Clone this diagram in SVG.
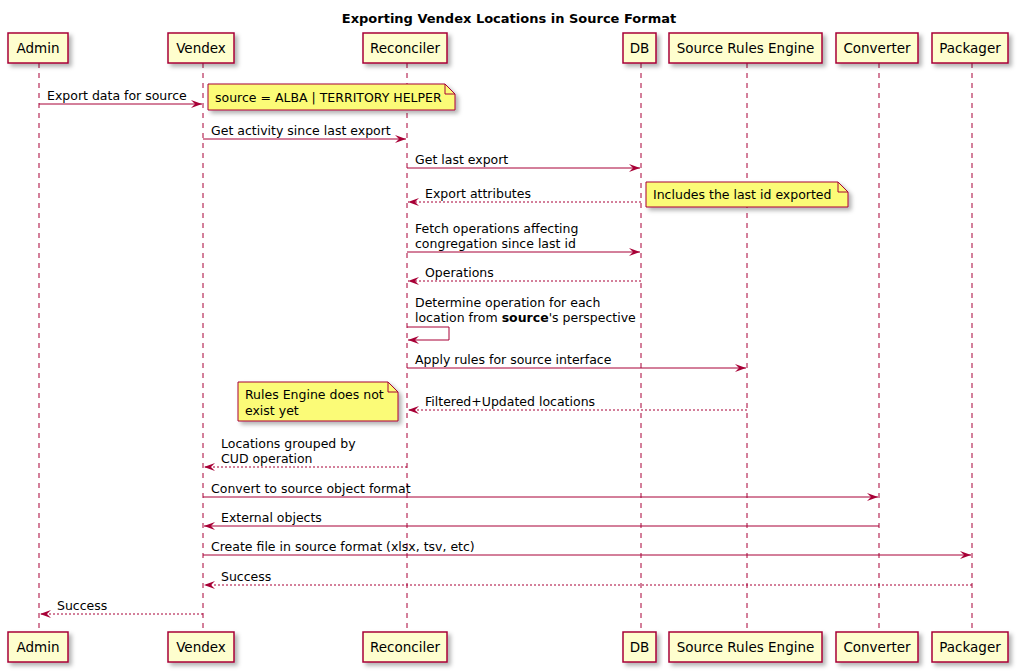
<svg xmlns="http://www.w3.org/2000/svg" width="1018" height="672" viewBox="0 0 1018 672">
<style>
.title{font-family:"DejaVu Sans",sans-serif;font-size:13px;font-weight:bold;fill:#000}
.pbox{fill:#FEFECE;stroke:#A80036;stroke-width:1.5;filter:url(#sh)}
.pname{font-family:"DejaVu Sans",sans-serif;font-size:13.5px;fill:#000;text-anchor:middle}
.life{stroke:#A80036;stroke-width:1;stroke-dasharray:5,5}
.msg{stroke:#A80036;stroke-width:1;fill:none;marker-end:url(#ah)}
.ret{stroke:#A80036;stroke-width:1;fill:none;stroke-dasharray:2,2;marker-end:url(#ah)}
.lbl{font-family:"DejaVu Sans",sans-serif;font-size:12.5px;fill:#000}
.note{fill:#FBFB77;stroke:#A80036;stroke-width:1;filter:url(#sh)}
.fold{fill:none;stroke:#A80036;stroke-width:1}
</style>
<defs>
<filter id="sh" x="-10%" y="-20%" width="130%" height="160%">
<feDropShadow dx="3" dy="3" stdDeviation="2" flood-color="#000" flood-opacity="0.3"/>
</filter>
<marker id="ah" viewBox="0 0 11 10" refX="11" refY="5" markerWidth="11" markerHeight="10" orient="auto" markerUnits="userSpaceOnUse">
<path d="M0,1 L11,5 L0,9 L4,5 Z" fill="#A80036"/>
</marker>
</defs>
<rect width="1018" height="672" fill="#fff"/>
<text class="title" x="509" y="23" text-anchor="middle">Exporting Vendex Locations in Source Format</text>

<g id="lifelines">
<line class="life" x1="39" y1="63" x2="39" y2="632"/>
<line class="life" x1="203" y1="63" x2="203" y2="632"/>
<line class="life" x1="407" y1="63" x2="407" y2="632"/>
<line class="life" x1="641" y1="63" x2="641" y2="632"/>
<line class="life" x1="747" y1="63" x2="747" y2="632"/>
<line class="life" x1="879" y1="63" x2="879" y2="632"/>
<line class="life" x1="972" y1="63" x2="972" y2="632"/>
</g>

<g id="admin">
<rect class="pbox" x="8" y="33" width="60" height="30"/><text class="pname" x="38" y="53">Admin</text>
<rect class="pbox" x="8" y="632" width="60" height="30"/><text class="pname" x="38" y="652">Admin</text>
</g>
<g id="vendex">
<rect class="pbox" x="168" y="33" width="66" height="30"/><text class="pname" x="201" y="53">Vendex</text>
<rect class="pbox" x="168" y="632" width="66" height="30"/><text class="pname" x="201" y="652">Vendex</text>
</g>
<g id="reconciler">
<rect class="pbox" x="363" y="33" width="84" height="30"/><text class="pname" x="405" y="53">Reconciler</text>
<rect class="pbox" x="363" y="632" width="84" height="30"/><text class="pname" x="405" y="652">Reconciler</text>
</g>
<g id="db">
<rect class="pbox" x="623" y="33" width="33" height="30"/><text class="pname" x="639.5" y="53">DB</text>
<rect class="pbox" x="623" y="632" width="33" height="30"/><text class="pname" x="639.5" y="652">DB</text>
</g>
<g id="sre">
<rect class="pbox" x="669" y="33" width="153" height="30"/><text class="pname" x="745.5" y="53">Source Rules Engine</text>
<rect class="pbox" x="669" y="632" width="153" height="30"/><text class="pname" x="745.5" y="652">Source Rules Engine</text>
</g>
<g id="converter">
<rect class="pbox" x="836" y="33" width="82" height="30"/><text class="pname" x="877" y="53">Converter</text>
<rect class="pbox" x="836" y="632" width="82" height="30"/><text class="pname" x="877" y="652">Converter</text>
</g>
<g id="packager">
<rect class="pbox" x="932" y="33" width="76" height="30"/><text class="pname" x="970" y="53">Packager</text>
<rect class="pbox" x="932" y="632" width="76" height="30"/><text class="pname" x="970" y="652">Packager</text>
</g>

<g id="connectors">
<line class="msg" x1="39" y1="104" x2="202" y2="104"/>
<text class="lbl" x="47" y="100">Export data for source</text>

<line class="msg" x1="203" y1="139" x2="406" y2="139"/>
<text class="lbl" x="211" y="135">Get activity since last export</text>

<line class="msg" x1="407" y1="168" x2="640" y2="168"/>
<text class="lbl" x="415" y="164">Get last export</text>

<line class="ret" x1="641" y1="202" x2="408" y2="202"/>
<text class="lbl" x="425" y="198">Export attributes</text>

<line class="msg" x1="407" y1="252" x2="640" y2="252"/>
<text class="lbl" x="415" y="233">Fetch operations affecting</text>
<text class="lbl" x="415" y="248">congregation since last id</text>

<line class="ret" x1="641" y1="281" x2="408" y2="281"/>
<text class="lbl" x="425" y="277">Operations</text>

<text class="lbl" x="415" y="307">Determine operation for each</text>
<text class="lbl" x="415" y="322">location from <tspan font-weight="bold">source</tspan>'s perspective</text>
<polyline class="msg" points="407,327 449,327 449,340 408,340"/>

<line class="msg" x1="407" y1="368" x2="746" y2="368"/>
<text class="lbl" x="415" y="364">Apply rules for source interface</text>

<line class="ret" x1="747" y1="410" x2="408" y2="410"/>
<text class="lbl" x="425" y="406">Filtered+Updated locations</text>

<line class="ret" x1="407" y1="467" x2="204" y2="467"/>
<text class="lbl" x="221" y="448">Locations grouped by</text>
<text class="lbl" x="221" y="463">CUD operation</text>

<line class="msg" x1="203" y1="497" x2="878" y2="497"/>
<text class="lbl" x="211" y="493">Convert to source object format</text>

<line class="msg" x1="879" y1="526" x2="204" y2="526"/>
<text class="lbl" x="221" y="522">External objects</text>

<line class="msg" x1="203" y1="555" x2="971" y2="555"/>
<text class="lbl" x="211" y="551">Create file in source format (xlsx, tsv, etc)</text>

<line class="ret" x1="972" y1="585" x2="204" y2="585"/>
<text class="lbl" x="221" y="581">Success</text>

<line class="ret" x1="203" y1="614" x2="40" y2="614"/>
<text class="lbl" x="57" y="610">Success</text>
</g>

<g id="note1">
<path class="note" d="M208,84 L445,84 L455,94 L455,110 L208,110 Z"/>
<path class="fold" d="M445,84 L445,94 L455,94"/>
<text class="lbl" x="215" y="102">source = ALBA | TERRITORY HELPER</text>
</g>
<g id="note2">
<path class="note" d="M646,182 L838,182 L848,192 L848,207 L646,207 Z"/>
<path class="fold" d="M838,182 L838,192 L848,192"/>
<text class="lbl" x="653" y="199">Includes the last id exported</text>
</g>
<g id="note3">
<path class="note" d="M238,382 L388,382 L398,392 L398,421 L238,421 Z"/>
<path class="fold" d="M388,382 L388,392 L398,392"/>
<text class="lbl" x="245" y="399">Rules Engine does not</text>
<text class="lbl" x="245" y="415">exist yet</text>
</g>
</svg>
